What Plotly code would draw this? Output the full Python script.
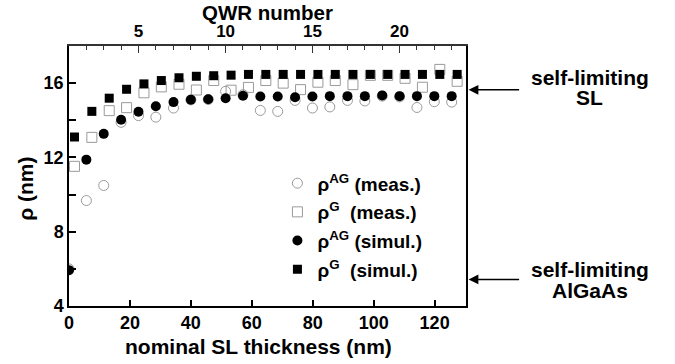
import plotly.graph_objects as go

# ---- data ----
thick_ag = [0.0, 5.7, 11.4, 17.1, 22.8, 28.5, 34.3, 40.0, 45.7, 51.4, 57.1, 62.8,
            68.5, 74.2, 79.9, 85.6, 91.4, 97.1, 102.8, 108.5, 114.2, 119.9, 125.6]
thick_g = [1.8, 7.5, 13.2, 18.9, 24.6, 30.3, 36.1, 41.8, 47.5, 53.2, 58.9, 64.6,
           70.3, 76.0, 81.7, 87.4, 93.2, 98.9, 104.6, 110.3, 116.0, 121.7, 127.4]

rho_ag_meas = [6.0, 9.68, 10.49, 13.89, 14.25, 14.17, 14.66, 15.10, 15.12, 15.56, 15.38, 14.53,
               14.48, 15.07, 14.66, 14.72, 15.07, 15.04, 15.30, 15.26, 14.69, 15.00, 14.98]
rho_g_meas = [11.52, 13.08, 14.52, 14.68, 15.48, 15.80, 15.94, 15.63, 16.14, 15.62, 15.77, 16.14,
              16.00, 15.65, 16.05, 16.14, 15.92, 16.42, 16.42, 16.26, 15.78, 16.74, 16.10]
rho_ag_sim = [5.93, 11.88, 13.27, 14.03, 14.46, 14.76, 14.98, 15.11, 15.13, 15.19, 15.32, 15.28,
              15.28, 15.24, 15.28, 15.30, 15.30, 15.30, 15.34, 15.30, 15.30, 15.30, 15.30]
rho_g_sim = [13.10, 14.48, 15.19, 15.67, 15.96, 16.14, 16.29, 16.37, 16.40, 16.43, 16.47, 16.47,
             16.47, 16.47, 16.47, 16.47, 16.47, 16.47, 16.47, 16.47, 16.47, 16.47, 16.47]

legend_names = ["ρ<sup>AG</sup> (meas.)", "ρ<sup>G</sup>  (meas.)",
                "ρ<sup>AG</sup> (simul.)", "ρ<sup>G</sup>  (simul.)"]

QWR_PERIOD = 5.71          # nm per QWR
X_RANGE = [0, 130.3]
Y_RANGE = [4, 18]
SL_LEVEL = 15.64
ALGAAS_LEVEL = 5.43

FONT = "Liberation Sans"
GRAY = "#9a9a9a"

fig = go.Figure()
fig.add_trace(go.Scatter(x=thick_ag, y=rho_ag_meas, mode="markers", name=legend_names[0],
                         legendgroup="a",
                         marker=dict(symbol="circle-open", size=10, color=GRAY, line=dict(width=1, color=GRAY))))
fig.add_trace(go.Scatter(x=thick_g, y=rho_g_meas, mode="markers", name=legend_names[1],
                         legendgroup="b",
                         marker=dict(symbol="square-open", size=10, color=GRAY, line=dict(width=1, color=GRAY))))
fig.add_trace(go.Scatter(x=thick_ag, y=rho_ag_sim, mode="markers", name=legend_names[2],
                         legendgroup="c",
                         marker=dict(symbol="circle", size=10, color="black")))
fig.add_trace(go.Scatter(x=thick_g, y=rho_g_sim, mode="markers", name=legend_names[3],
                         legendgroup="d",
                         marker=dict(symbol="square", size=9, color="black")))
# helper trace for the top (QWR number) axis
fig.add_trace(go.Scatter(x=[None], y=[None], xaxis="x2", showlegend=False, hoverinfo="skip"))

axis_font = dict(family=FONT, size=18, color="black", weight="bold")
top_font = dict(family=FONT, size=17, color="black", weight="bold")

fig.update_layout(
    width=675, height=364,
    margin=dict(l=69, r=209, t=46, b=58),
    paper_bgcolor="white", plot_bgcolor="white",
    font=dict(family=FONT, color="black", weight="bold"),
    showlegend=True,
    legend=dict(x=0.525, y=0.545, xanchor="left", yanchor="top",
                bgcolor="rgba(0,0,0,0)", font=dict(family=FONT, size=19, weight="bold"),
                tracegroupgap=1, itemwidth=30),
    xaxis=dict(range=X_RANGE, dtick=20, tick0=0, ticks="inside", ticklen=6, tickwidth=1.5,
               tickcolor="black", showline=True, linecolor="black", linewidth=1.5,
               showgrid=False, zeroline=False, tickfont=axis_font),
    xaxis2=dict(overlaying="x", side="top",
                range=[1 + X_RANGE[0] / QWR_PERIOD, 1 + X_RANGE[1] / QWR_PERIOD],
                tick0=0, dtick=5, ticks="inside", ticklen=7, tickwidth=1.2, tickcolor="#333",
                minor=dict(dtick=1, tick0=0, ticks="inside", ticklen=4, tickwidth=1, tickcolor="#333"),
                showline=True, linecolor="#333", linewidth=1.5,
                showgrid=False, zeroline=False, tickfont=top_font),
    yaxis=dict(range=Y_RANGE, dtick=4, tick0=0, ticks="inside", ticklen=7, tickwidth=1.5,
               tickcolor="black",
               minor=dict(dtick=2, tick0=0, ticks="inside", ticklen=7, tickwidth=1.5, tickcolor="black"),
               showline=True, linecolor="black", linewidth=1.5, mirror=True,
               showgrid=False, zeroline=False, tickfont=axis_font),
)

title_font = dict(family=FONT, size=21, color="black", weight="bold")
fig.add_annotation(text="nominal SL thickness (nm)", xref="paper", yref="paper",
                   x=0.477, y=-0.105, xanchor="center", yanchor="top", showarrow=False,
                   font=title_font)
fig.add_annotation(text="QWR number", xref="paper", yref="paper",
                   x=0.5, y=1.128, xanchor="center", yanchor="middle", showarrow=False,
                   font=dict(family=FONT, size=20.5, color="black", weight="bold"))
fig.add_annotation(text="ρ (nm)", xref="paper", yref="paper",
                   x=-0.11, y=0.452, xanchor="center", yanchor="middle", showarrow=False,
                   textangle=-90, font=title_font)

side_font = dict(family=FONT, size=21, color="black", weight="bold")
for level, lines, up, down in [(SL_LEVEL, ["self-limiting", "SL"], 12, -8),
                               (ALGAAS_LEVEL, ["self-limiting", "AlGaAs"], 10, -11)]:
    fig.add_annotation(x=1.0066, y=level, xref="paper", yref="y", text="",
                       showarrow=True, axref="pixel", ayref="pixel", ax=52, ay=0,
                       arrowhead=2, arrowsize=1.3, arrowwidth=1.5, arrowcolor="black")
    fig.add_annotation(x=1.312, y=level, xref="paper", yref="y", text=lines[0],
                       showarrow=False, xanchor="center", yanchor="middle", yshift=up,
                       font=side_font)
    fig.add_annotation(x=1.312, y=level, xref="paper", yref="y", text=lines[1],
                       showarrow=False, xanchor="center", yanchor="middle", yshift=down,
                       font=side_font)

fig.write_html("out.html", config={"displayModeBar": False},
               post_script="document.body.style.margin='0px';")
